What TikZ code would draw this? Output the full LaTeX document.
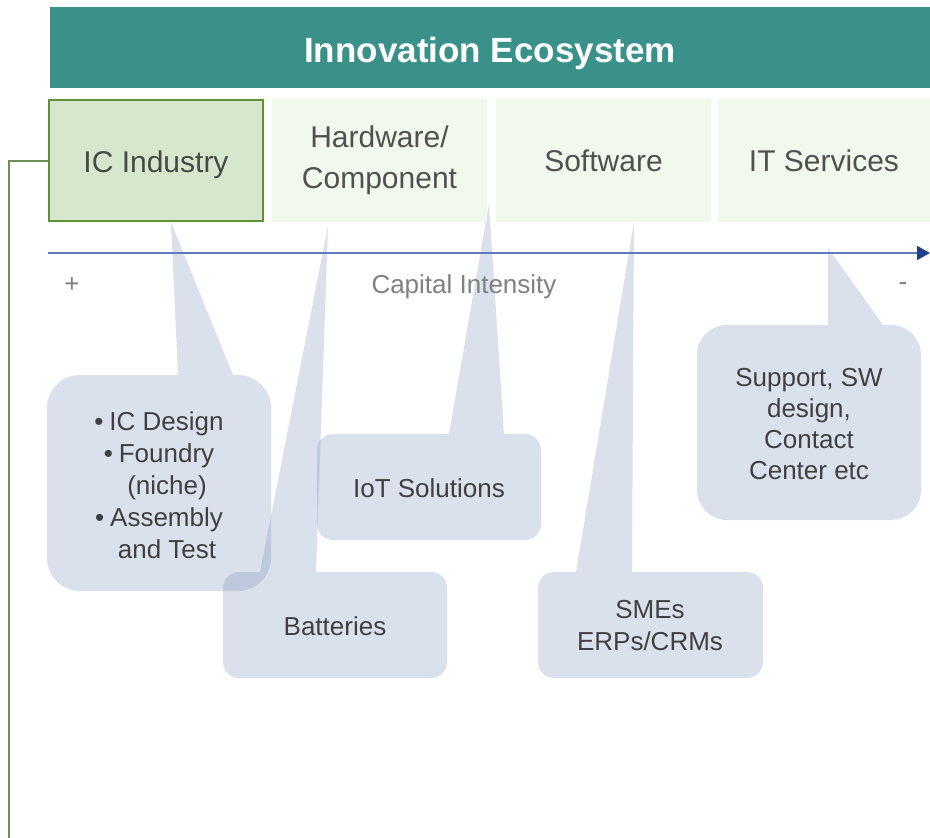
\documentclass[tikz,border=0pt]{standalone}
\usepackage{fontspec}
\setmainfont{Liberation Sans}
\usetikzlibrary{arrows.meta}
\definecolor{headteal}{RGB}{58,145,137}
\definecolor{icfill}{RGB}{215,231,205}
\definecolor{icborder}{RGB}{94,146,52}
\definecolor{catfill}{RGB}{241,249,237}
\definecolor{cattext}{RGB}{80,80,80}
\definecolor{ictext}{RGB}{70,74,70}
\definecolor{calbase}{RGB}{107,131,179}
\definecolor{caltext}{RGB}{64,64,64}
\definecolor{axisblue}{RGB}{96,122,186}
\definecolor{axishead}{RGB}{31,63,140}
\definecolor{greyaxis}{RGB}{128,128,128}
\definecolor{icline}{RGB}{112,144,90}
\newcommand\mycallout[9]{%
  \fill[calloutfill] (#7,#8) -- (#9,#2) -- (#9+1,#2) [rounded corners=#5pt] -- (#3,#2) -- (#3,#4) -- (#1,#4) -- (#1,#2) -- (#6-1,#2) [sharp corners] -- (#6,#2) -- cycle;}
\begin{document}
\begin{tikzpicture}[x=1pt,y=-1pt,
  header/.style={fill=headteal, text=white, inner sep=0pt, minimum width=880pt, minimum height=81pt,
    text height=29pt, text depth=0pt, font=\fontsize{35}{40}\selectfont\bfseries},
  catbox/.style={fill=catfill, inner sep=0pt, minimum height=123pt, text=cattext, align=center,
    font=\fontsize{30}{41}\selectfont},
  icbox/.style={catbox, fill=icfill, draw=icborder, line width=2pt, minimum width=214pt, minimum height=121pt,
    text=ictext, text height=23pt, text depth=0pt},
  calloutfill/.style={fill=calbase, fill opacity=0.25},
  caltxt/.style={text=caltext, align=center, inner sep=0pt, font=\fontsize{26}{32}\selectfont},
  axislabel/.style={text=greyaxis, inner sep=0pt, font=\fontsize{26}{30}\selectfont},
  axisarrow/.style={draw=axisblue, line width=1.6pt, -{Triangle[color=axishead, length=13pt, width=14pt]}},
  iclink/.style={draw=icline, line width=2pt}]
\useasboundingbox (0,0) rectangle (930,838);

% callouts (shapes)
\mycallout{47}{375}{271}{591}{33}{178}{171}{222}{233}
\mycallout{223}{572}{447}{678}{16}{260}{328}{226}{316}
\mycallout{317}{434}{541}{540}{16}{449}{489}{204}{504}
\mycallout{538}{572}{763}{678}{16}{576}{634}{222}{632}
\mycallout{697}{325}{921}{520}{30}{828}{828}{248}{883}

% header
\node[header] (head) at (490,47.5) {Innovation Ecosystem};

% category boxes
\node[icbox] (ic) at (156,160.5) {IC Industry};
\node[catbox, minimum width=215pt] (hw) at (379.5,160.5) {Hardware/\\Component};
\node[catbox, minimum width=215pt] (sw) at (603.5,160.5) {Software};
\node[catbox, minimum width=212pt] (its) at (824,160.5) {IT Services};

% axis
\coordinate (axs) at (48,253);
\coordinate (axe) at (930,253);
\draw[axisarrow] (axs) -- (axe);
\node[axislabel] (plus) at (72,285) {+};
\node[axislabel] (capint) at (464,287) {Capital Intensity};
\node[axislabel] (minus) at (903,287) {-};

% green connector
\coordinate (gbot) at (9,842);
\draw[iclink] (ic.west) -| (gbot);

% callout texts
\node[caltxt] (icl) at (159,485) {•\hspace{6pt}IC Design\\•\hspace{6pt}Foundry\\\hspace*{16pt}(niche)\\•\hspace{6pt}Assembly\\\hspace*{16pt}and Test};
\node[caltxt] (bat) at (335,626) {Batteries};
\node[caltxt] (iot) at (429,488) {IoT Solutions};
\node[caltxt] (sme) at (650,625.5) {SMEs\\ERPs/CRMs};
\node[caltxt, font=\fontsize{26}{31}\selectfont] (itl) at (809,424) {Support, SW\\design,\\Contact\\Center etc};
\end{tikzpicture}
\end{document}
